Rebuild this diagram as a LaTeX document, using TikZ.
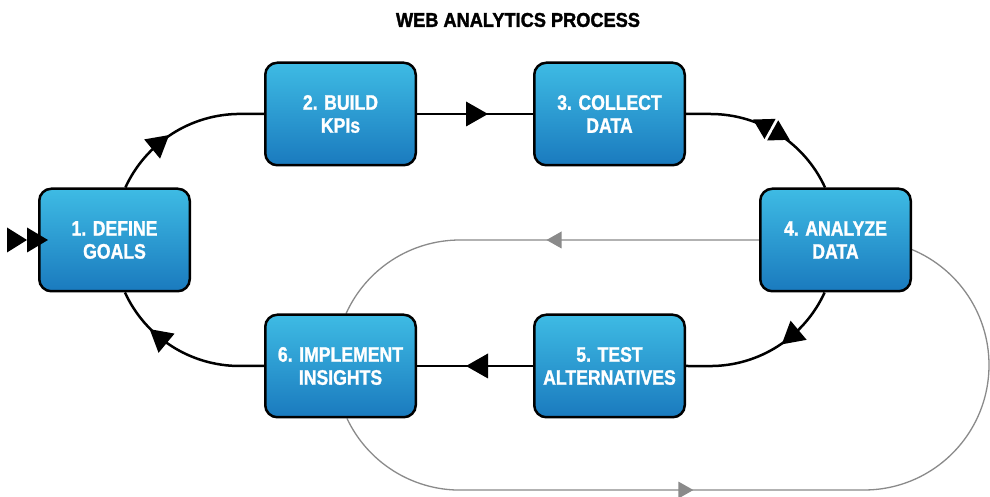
\documentclass[tikz,border=0pt]{standalone}
\usepackage{fontspec}
\setmainfont{Liberation Sans}
\newfontfamily\boxfont{Liberation Sans}[FakeStretch=0.84, BoldFeatures={FakeBold=1.2}]
\newfontfamily\headfont{Liberation Sans}[FakeStretch=0.91, BoldFeatures={FakeBold=1.6}]
\usetikzlibrary{decorations.markings}
\pgfdeclarelayer{bg}
\pgfsetlayers{bg,main}

\definecolor{boxtop}{RGB}{62,187,228}
\definecolor{boxbot}{RGB}{26,122,190}
\definecolor{loopgrey}{RGB}{138,138,138}

% arrowheads placed by the markings decoration (x axis = path direction)
\newcommand\fwdtip{\fill[black] (12pt,0pt) -- (-10pt,12.5pt) -- (-10pt,-12.5pt) -- cycle;}
\newcommand\bowtietip{%
  \fill[white] (-1.5pt,-12.5pt) rectangle (1.5pt,12.5pt);
  \fill[black] (-21pt,0pt) -- (-1.5pt,11.5pt) -- (-1.5pt,-11.5pt) -- cycle;
  \fill[black] (21pt,0pt) -- (1.5pt,11.5pt) -- (1.5pt,-11.5pt) -- cycle;}
\newcommand\greytip{\fill[loopgrey] (7.5pt,0pt) -- (-7.5pt,8.5pt) -- (-7.5pt,-8.5pt) -- cycle;}

\tikzset{
  stepbox/.style={draw=black, line width=2.5pt, rounded corners=12pt,
    minimum width=150.5pt, minimum height=102.5pt, inner sep=0pt,
    top color=boxtop, bottom color=boxbot, text=white, align=center,
    font=\boxfont\bfseries\fontsize{21}{23}\selectfont},
  flow/.style={draw=black, line width=2.5pt},
  greyloop/.style={draw=loopgrey, line width=1.3pt},
  arrowat/.style={postaction={decorate},
    decoration={markings, mark=at position #1 with {\fwdtip}}},
  bowtieat/.style={postaction={decorate},
    decoration={markings, mark=at position #1 with {\bowtietip}}},
  greyat/.style={postaction={decorate},
    decoration={markings, mark=at position #1 with {\greytip}}},
}

\begin{document}
\begin{tikzpicture}[x=1pt, y=1pt]
  \useasboundingbox (0,0) rectangle (990,497);

  \node[font=\headfont\bfseries\fontsize{20}{21}\selectfont] (title) at (518,477) {WEB ANALYTICS PROCESS};

  % process steps
  \node[stepbox] (b1) at (114.5,257) {1. DEFINE\\GOALS};
  \node[stepbox] (b2) at (340.5,383) {2. BUILD\\KPIs};
  \node[stepbox] (b3) at (609.5,383) {3. COLLECT\\DATA};
  \node[stepbox] (b4) at (835.5,257) {4. ANALYZE\\DATA};
  \node[stepbox] (b5) at (609.5,131) {5. TEST\\ALTERNATIVES};
  \node[stepbox] (b6) at (340.5,131) {6. IMPLEMENT\\INSIGHTS};

  \begin{pgfonlayer}{bg}
    \fill[white] (0,0) rectangle (990,497);

    % grey feedback loop
    \draw[greyloop, greyat=205pt] (b4.west) -- (460,257)
      arc[start angle=90, end angle=155.7, radius=125pt];
    \draw[greyloop, greyat=367pt] ([xshift=6.5pt]b6.south)
      arc[start angle=205.3, end angle=270, radius=125pt] -- (864,7)
      arc[start angle=-90, end angle=67.4, radius=125pt];

    % main cycle
    \draw[flow, arrowat=57pt] ([xshift=10.9pt]b1.north)
      arc[start angle=155.4, end angle=90, radius=126pt] -- (b2.west);
    \draw[flow, arrowat=59pt] (b2.east) -- (b3.west);
    \draw[flow, bowtieat=88pt] (b3.east) -- ++(24.5,0)
      arc[start angle=90, end angle=24.6, radius=126pt];
    \draw[flow, arrowat=56pt] ([xshift=-10.9pt]b4.south)
      arc[start angle=-24.6, end angle=-90, radius=126pt] -- (b5.east);
    \draw[flow, arrowat=55pt] (b5.west) -- (b6.east);
    \draw[flow, arrowat=112pt] (b6.west) -- ++(-24.5,0)
      arc[start angle=-90, end angle=-155.4, radius=126pt];
  \end{pgfonlayer}

  % entry marker
  \coordinate (entry) at ([xshift=-31pt]b1.west);
  \fill (entry) ++(0,12.5) -- ++(20,-12.5) -- ++(-20,-12.5) -- cycle;
  \fill (entry) ++(20,12.5) -- ++(21,-12.5) -- ++(-21,-12.5) -- cycle;
\end{tikzpicture}
\end{document}
